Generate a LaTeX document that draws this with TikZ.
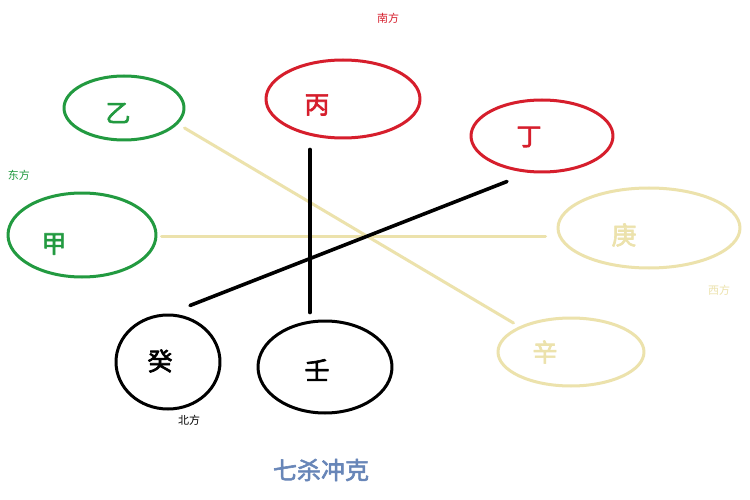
\documentclass[tikz,border=0pt]{standalone}
\usepackage{fontspec}
\usetikzlibrary{shapes.geometric}
\newfontfamily\cjk{Noto Sans CJK SC}
\newfontfamily\cjkm[FakeBold=2.5]{Noto Sans CJK SC}
\definecolor{muugreen}{RGB}{34,154,64}
\definecolor{muured}{RGB}{214,30,44}
\definecolor{muubeige}{RGB}{236,226,172}
\definecolor{muublue}{RGB}{104,134,184}

\begin{document}
\begin{tikzpicture}[line cap=round,line join=round,x=1pt,y=-1pt,
  gan/.style={ellipse,draw,line width=3pt,inner sep=0pt},
  kirj/.style={font=\cjkm\fontsize{25}{25}\selectfont},
  suunta/.style={font=\cjk\fontsize{11}{11}\selectfont},
  kline/.style={line width=3.6pt,black},
  bline/.style={line width=3pt,muubeige}]
\useasboundingbox[fill=white] (0,0) rectangle (750,500);
%ellipsit
\node[gan,muugreen,minimum width=120,minimum height=64,
  label={[kirj,muugreen,xshift=-6pt,yshift=-5pt]center:乙}] (yi) at (124,108) {};
\node[gan,muugreen,minimum width=148,minimum height=84,
  label={[kirj,muugreen,xshift=-28pt,yshift=-9pt]center:甲}] (jia) at (82,235) {};
\node[gan,muured,minimum width=154,minimum height=78,
  label={[kirj,muured,xshift=-26pt,yshift=-6pt]center:丙}] (bing) at (343,99) {};
\node[gan,muured,minimum width=142,minimum height=72,
  label={[kirj,muured,xshift=-13pt,yshift=-1pt]center:丁}] (ding) at (542,136) {};
\node[gan,muubeige,minimum width=182,minimum height=80,
  label={[kirj,muubeige,xshift=-25pt,yshift=-7pt]center:庚}] (geng) at (649,228) {};
\node[gan,muubeige,minimum width=146,minimum height=68,
  label={[kirj,muubeige,xshift=-26pt]center:辛}] (xin) at (571,352) {};
\node[gan,black,minimum width=104,minimum height=94,
  label={[kirj,black,xshift=-8pt,yshift=1pt]center:癸}] (gui) at (168,362) {};
\node[gan,black,minimum width=134,minimum height=92,
  label={[kirj,black,xshift=-8pt,yshift=-3pt]center:壬}] (ren) at (325,367) {};

%viivat
\draw[bline] ([shift={(-1,20)}]yi.east) -- ([shift={(17,-29)}]xin.west);
\draw[bline] ([shift={(4,1)}]jia.east) -- ([shift={(-11,8)}]geng.west);
\draw[kline] ([shift={(-33,10)}]bing.south) -- ([shift={(-15,-7)}]ren.north);
\draw[kline] ([shift={(-35,8)}]ding.south) -- ([shift={(22,-8)}]gui.north);

%suunnat
\node[suunta,muured] (nan) at (388,18) {南方};
\node[suunta,muugreen] (dong) at (19,175) {东方};
\node[suunta,muubeige] (xi) at (719,290) {西方};
\node[suunta,black] (bei) at (189,420) {北方};
\node[muublue,font=\cjkm\fontsize{24}{24}\selectfont] (otsikko) at (321,470) {七杀冲克};
\end{tikzpicture}
\end{document}
